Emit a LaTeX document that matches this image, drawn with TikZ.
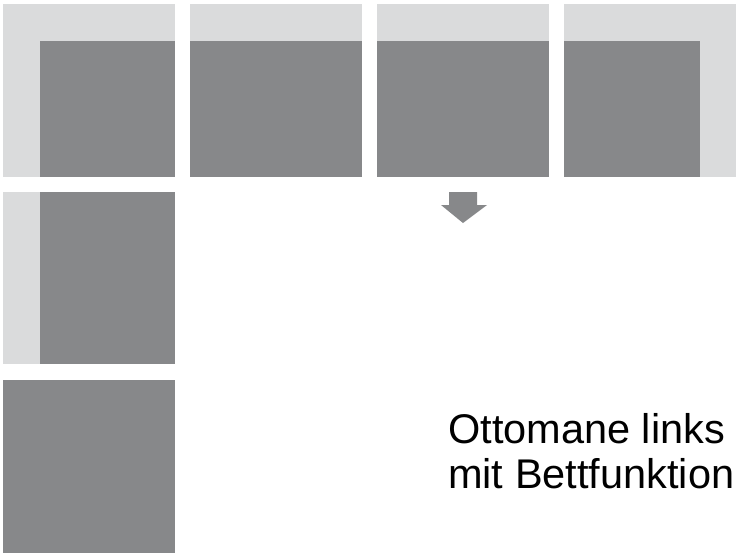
\documentclass[tikz,border=0pt]{standalone}
\usepackage{fontspec}
\setmainfont{Liberation Sans}
\usepackage{tikz}

\definecolor{backrest}{HTML}{DADBDC}
\definecolor{seat}{HTML}{87888A}

\begin{document}
\begin{tikzpicture}[x=1pt, y=-1pt]
\useasboundingbox (0,0) rectangle (737,560);
\pgfmathsetmacro{\t}{4} % top of first row
\pgfmathsetmacro{\h}{173} % module height
\pgfmathsetmacro{\w}{172} % module width
\pgfmathsetmacro{\r}{37} % backrest depth
% top row
\fill[backrest] (3,\t) rectangle ++(\w,\h);
\fill[seat] (3+\r,\t+\r) rectangle (175,\t+\h);
\foreach \x in {190,377} {
  \fill[backrest] (\x,\t) rectangle ++(\w,\h);
  \fill[seat] (\x,\t+\r) rectangle (\x+\w,\t+\h);
}
\fill[backrest] (564,\t) rectangle ++(\w,\h);
\fill[seat] (564,\t+\r) rectangle (700,\t+\h);
% left column
\fill[backrest] (3,192) rectangle (175,364);
\fill[seat] (3+\r,192) rectangle (175,364);
\fill[seat] (3,380) rectangle (175,553);
% arrow
\fill[seat] (449,192) -- (477,192) -- (477,205) -- (487,205) -- (463,223)
  -- (441,205) -- (449,205) -- cycle;
\node[anchor=base west, align=left, inner sep=0pt,
  font=\fontsize{41.5}{45}\selectfont] (label) at (448,488)
  {Ottomane links\\mit Bettfunktion};
\end{tikzpicture}
\end{document}
